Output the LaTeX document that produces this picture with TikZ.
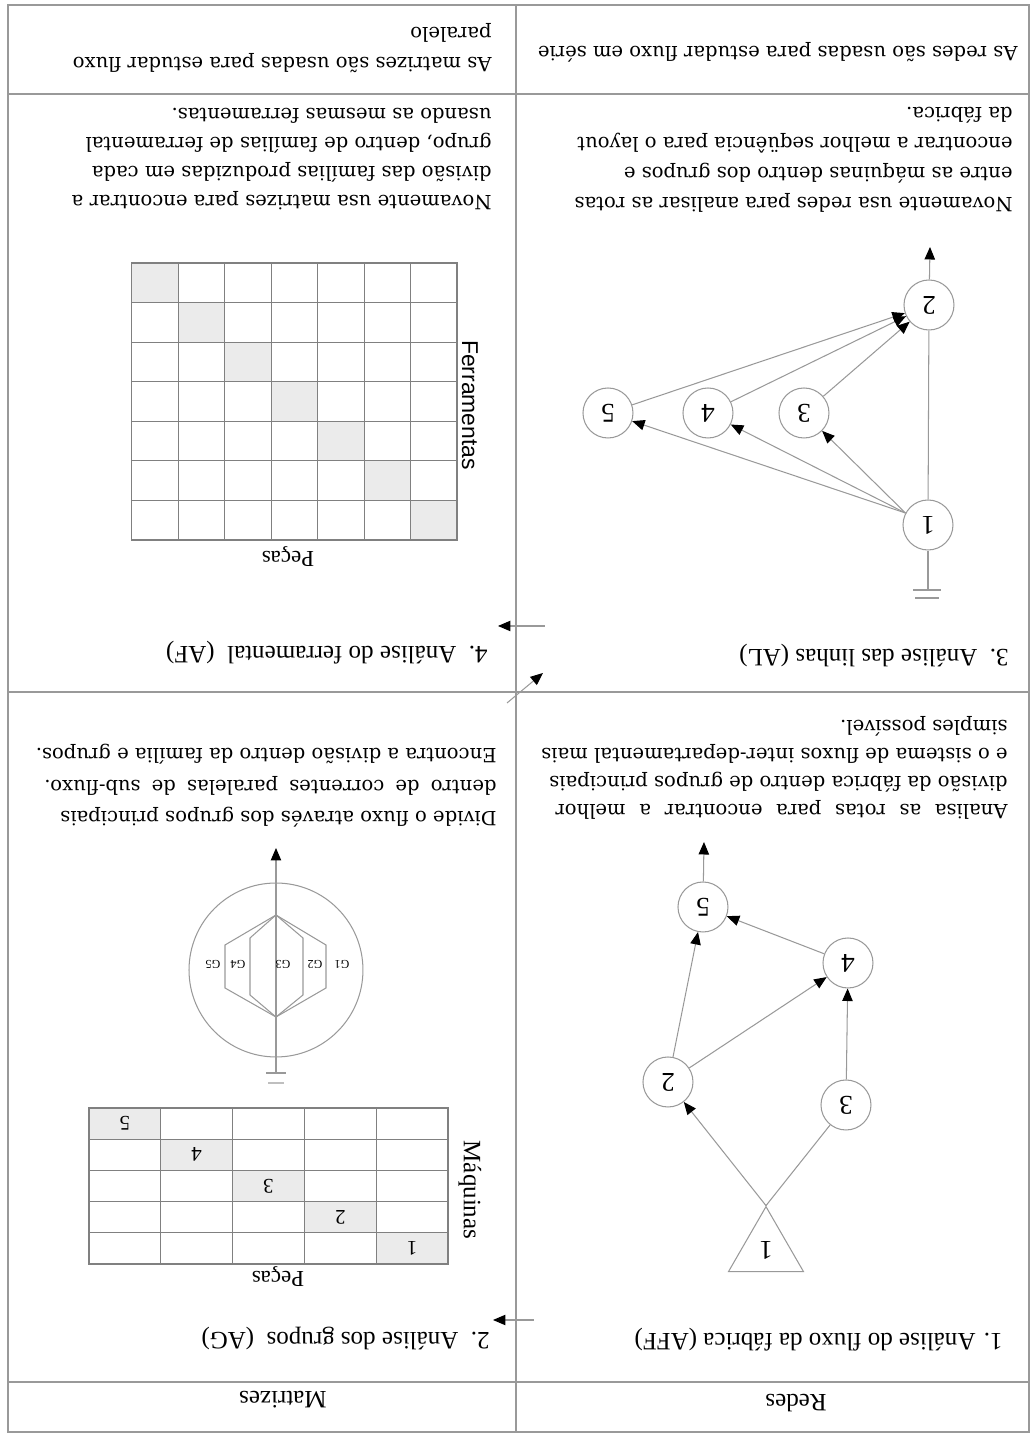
\documentclass[tikz,border=0pt]{standalone}
\usepackage{fontspec}
\setmainfont{Liberation Serif}
\newfontfamily\descfont{DejaVu Serif}
\newfontfamily\axisfont{Liberation Sans}
\usetikzlibrary{positioning, arrows.meta, shapes.geometric}

\begin{document}
\begin{tikzpicture}[
    x=0.48pt, y=-0.48pt, rotate=180, transform shape,
    line/.style={draw=black!40, line width=0.5pt},
    arrow/.style={line, -{Triangle[length=6pt, width=5pt, color=black]}},
    proc/.style={circle, draw=black!40, line width=0.5pt, minimum size=24pt,
                 inner sep=0pt, font=\fontsize{13}{13}\selectfont},
    cellbox/.style={rectangle, draw=black!50, line width=0.5pt, inner sep=0pt, outer sep=0pt},
    title/.style={anchor=base west, inner sep=0pt, font=\fontsize{12}{14}\selectfont},
    note/.style={anchor=north west, inner sep=0pt, align=left,
                 font=\descfont\fontsize{9.4}{14}\selectfont},
    glabel/.style={inner sep=0pt, font=\fontsize{5.8}{6}\selectfont}
]
  \useasboundingbox (0,0) rectangle (1032,1435);

  % table frame
  \draw[line] (3,3) rectangle (1024,1430);
  \draw[line] (516,3) -- (516,1430);
  \draw[line] (3,53) -- (1024,53);
  \draw[line] (3,743) -- (1024,743);
  \draw[line] (3,1341) -- (1024,1341);
  \node[anchor=base, font=\fontsize{12}{14}\selectfont] (hred) at (236,40) {Redes};
  \node[anchor=base, font=\fontsize{12}{14}\selectfont] (hmat) at (749,43) {Matrizes};

  % 1: factory flow network
  \node[title] (t1) at (29,101) {1. Análise do fluxo da fábrica (AFF)};
  \node[regular polygon, regular polygon sides=3, shape border rotate=180, draw=black!40,
        line width=0.5pt, minimum size=41.6pt, inner sep=0pt,
        font=\fontsize{13}{13}\selectfont] (a1) at (266,185) {1};
  \node[proc] (a3) at (186,330) {3};
  \node[proc] (a2) at (364,353) {2};
  \node[proc] (a4) at (184,472) {4};
  \node[proc] (a5) at (329,528) {5};
  \coordinate (aout) at (328,593);
  \draw[arrow] (a1.corner 1) -- (a2);
  \draw[line] (a1.corner 1) -- (a3);
  \draw[arrow] (a3) -- (a4);
  \draw[arrow] (a2) -- (a4);
  \draw[arrow] (a2) -- (a5);
  \draw[arrow] (a4) -- (a5);
  \draw[arrow] (a5) -- (aout);
  \node[note, font=\descfont\fontsize{9.4}{13.5}\selectfont] (d1) at (24,615)
    {\makebox[217pt][s]{Analisa as rotas para encontrar a melhor}\\
     divisão da fábrica dentro de grupos principais\\
     e o sistema de fluxos inter-departamental mais\\
     simples possível.};

  % 2: group matrix and parallel flow
  \node[title] (t2) at (542,102) {2.\ \ Análise dos grupos\ \ (AG)};
  \foreach \r in {1,...,5} {
    \foreach \c in {1,...,5} {
      \node[cellbox, minimum width=34.46pt, minimum height=14.98pt]
        (ag\r\c) at ({584+(\c-0.5)*71.8},{171+(\r-0.5)*31.2}) {};
    }
  }
  \foreach \k in {1,...,5}
    \node[cellbox, fill=black!8, minimum width=34.46pt, minimum height=14.98pt,
          font=\fontsize{10}{10}\selectfont] at (ag\k\k) {\k};
  \node[anchor=base, font=\fontsize{11}{13}\selectfont] (pg2) at (754,163) {Peças};
  \node[rotate=90, font=\fontsize{12}{14}\selectfont] (maq) at (562,245) {Máquinas};

  \node[circle, draw=black!40, line width=0.5pt, minimum size=83.5pt] (ring) at (756,465) {};
  \coordinate (gnd2) at (756,362);
  \coordinate (out2) at (756,587);
  \draw[line] (746,362) -- (766,362);
  \draw[draw=black!25, line width=0.5pt] (748,352) -- (764,352);
  \draw[arrow] (gnd2) -- (out2);
  \coordinate (hx1) at (756,418);
  \coordinate (hx2) at (756,520);
  \draw[line] (hx1) -- (706,447) -- (706,490) -- (hx2) -- (807,490) -- (807,447) -- cycle;
  \draw[line] (hx1) -- (729,440) -- (729,497) -- (hx2) -- (782,497) -- (782,440) -- cycle;
  \node[glabel] (g1) at (690,471) {G1};
  \node[glabel] (g2) at (717,471) {G2};
  \node[glabel] (g3) at (749,471) {G3};
  \node[glabel] (g4) at (794,471) {G4};
  \node[glabel] (g5) at (819,471) {G5};
  \node[note, font=\descfont\fontsize{9.4}{15.3}\selectfont] (d2) at (535,607)
    {Divide o fluxo através dos grupos principais\\
     \makebox[217pt][s]{dentro de correntes paralelas de sub-fluxo.}\\
     Encontra a divisão dentro da família e grupos.};

  % links between the stages
  \coordinate (l12a) at (498,115);
  \coordinate (l12b) at (539,115);
  \draw[arrow] (l12a) -- (l12b);
  \coordinate (l23a) at (525,732);
  \coordinate (l23b) at (489,762);
  \draw[arrow] (l23a) -- (l23b);
  \coordinate (l34a) at (487,809);
  \coordinate (l34b) at (534,809);
  \draw[arrow] (l34a) -- (l34b);

  % 3: line analysis network
  \node[title] (t3) at (23,785) {3.\ \ Análise das linhas (AL)};
  \draw[line] (91,845) -- (119,845);
  \draw[line] (93,837) -- (117,837);
  \coordinate (gnd3) at (104,845);
  \node[proc] (b1) at (104,910) {1};
  \node[proc] (b3) at (228,1022) {3};
  \node[proc] (b4) at (324,1022) {4};
  \node[proc] (b5) at (424,1022) {5};
  \node[proc] (b2) at (103,1130) {2};
  \coordinate (bout) at (102,1188);
  \draw[line] (gnd3) -- (b1);
  \draw[line] (b1) -- (b2);
  \draw[arrow] (b1.-28) -- (b3);
  \draw[arrow] (b1.-28) -- (b4);
  \draw[arrow] (b1.-28) -- (b5);
  \draw[arrow] (b3) -- (b2);
  \draw[arrow] (b4) -- (b2);
  \draw[arrow] (b5) -- (b2);
  \draw[arrow] (b2) -- (bout);
  \node[note, font=\descfont\fontsize{9.4}{14.4}\selectfont] (d3) at (19,1222)
    {Novamente usa redes para analisar as rotas\\
     entre as máquinas dentro dos grupos e\\
     encontrar a melhor seqüência para o layout\\
     da fábrica.};

  % 4: tooling matrix
  \node[title] (t4) at (544,788) {4.\ \ Análise do ferramental\ \ (AF)};
  \foreach \r in {1,...,7} {
    \foreach \c in {1,...,7} {
      \node[cellbox, minimum width=22.29pt, minimum height=19pt]
        (af\r\c) at ({575+(\c-0.5)*46.43},{895+(\r-0.5)*39.57}) {};
    }
  }
  \foreach \k in {1,...,7}
    \node[cellbox, fill=black!8, minimum width=22.29pt, minimum height=19pt] at (af\k\k) {};
  \node[anchor=base, font=\fontsize{11}{13}\selectfont] (pg4) at (744,883) {Peças};
  \node[rotate=90, font=\axisfont\fontsize{11}{13}\selectfont] (ferr) at (562,1030) {Ferramentas};
  \node[note, font=\descfont\fontsize{9.4}{13.9}\selectfont] (d4) at (540,1225)
    {Novamente usa matrizes para encontrar a\\
     divisão das famílias produzidas em cada\\
     grupo, dentro de famílias de ferramental\\
     usando as mesmas ferramentas.};

  % bottom row
  \node[anchor=west, inner sep=0pt, font=\descfont\fontsize{9.4}{14}\selectfont] (srd) at (14,1383)
    {As redes são usadas para estudar fluxo em série};
  \node[note, font=\descfont\fontsize{9.4}{14.4}\selectfont] (smt) at (540,1362)
    {As matrizes são usadas para estudar fluxo\\paralelo};
\end{tikzpicture}
\end{document}
